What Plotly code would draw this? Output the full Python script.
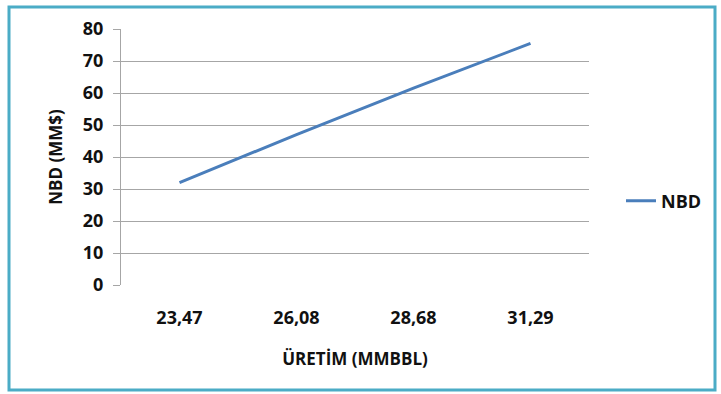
import plotly.graph_objects as go

# Production scenarios (MMBBL) and resulting NPV (MM$)
uretim = ["23,47", "26,08", "28,68", "31,29"]
nbd = [32.0, 47.0, 61.5, 75.5]
y_ticks = [0, 10, 20, 30, 40, 50, 60, 70, 80]

FONT = "Open Sans"
W, H = 721, 394
L, R, T, B = 121, 132, 29, 109
pw, ph = W - L - R, H - T - B


def px_x(x):
    return (x - L) / pw


def px_y(y):
    return (H - B - y) / ph


fig = go.Figure()
fig.add_trace(go.Scatter(
    x=uretim, y=nbd, mode="lines", name="NBD",
    line=dict(color="#4A7EBB", width=3),
))

fig.update_layout(
    width=W, height=H,
    margin=dict(l=L, r=R, t=T, b=B),
    paper_bgcolor="white", plot_bgcolor="white",
    font=dict(family=FONT, color="#111111"),
    showlegend=True,
    legend=dict(
        x=px_x(621), y=px_y(201), xanchor="left", yanchor="middle",
        font=dict(family=FONT, size=18, color="#111111", weight="bold"),
        bgcolor="rgba(0,0,0,0)",
    ),
    xaxis=dict(
        type="category", range=[-0.5, 3.5],
        showgrid=False, zeroline=False,
        showline=False,
        tickfont=dict(family=FONT, size=18, weight="bold"),
        ticklabelstandoff=20,
        title=dict(text="ÜRETİM (MMBBL)", font=dict(family=FONT, size=17, weight="bold"), standoff=25),
        fixedrange=True,
    ),
    yaxis=dict(
        range=[0, 80], tickvals=y_ticks,
        showgrid=True, gridcolor="#a6a6a6", gridwidth=1,
        zeroline=False,
        showline=True, linecolor="#a6a6a6", linewidth=1,
        ticks="outside", ticklen=7, tickcolor="#a6a6a6",
        tickfont=dict(family=FONT, size=18, weight="bold"),
        ticklabelstandoff=6,
        title=dict(text="NBD (MM$)", font=dict(family=FONT, size=17, weight="bold"), standoff=15),
        fixedrange=True,
    ),
    shapes=[
        # chart frame
        dict(type="rect", xref="paper", yref="paper",
             x0=px_x(9), x1=px_x(715), y0=px_y(7), y1=px_y(390),
             line=dict(color="#4BACC6", width=3), layer="below"),
    ],
)

fig.write_html("out.html")
